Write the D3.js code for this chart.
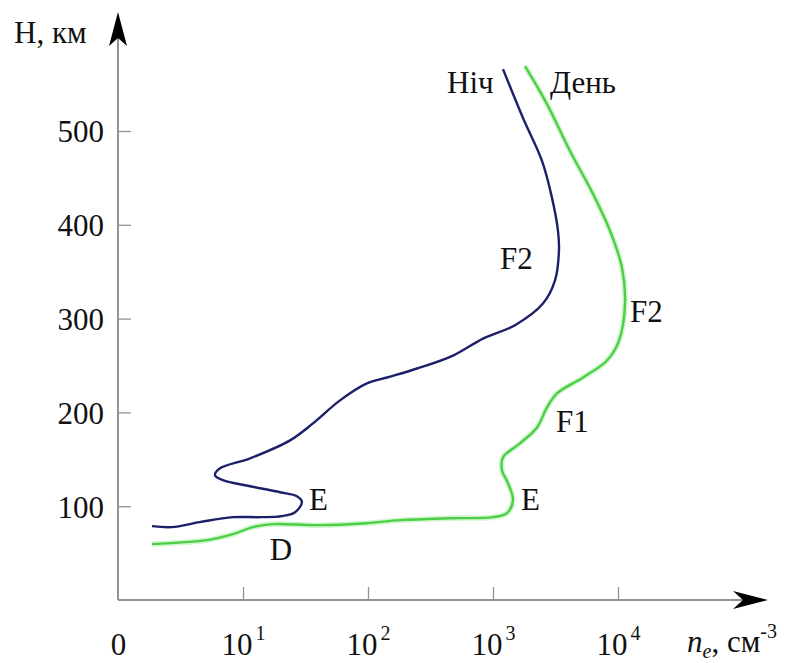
<!DOCTYPE html>
<html>
<head>
<meta charset="utf-8">
<script src="https://cdn.jsdelivr.net/npm/d3@7"></script>
<style>
  body { margin: 0; background: #fff; }
</style>
</head>
<body>
<div id="chart"></div>
<script>
// electron density (cm^-3) and height (km)
const nightNe = [1.87, 2.7, 4.5, 8.3, 13.7, 20.5, 26.1, 29.6, 27.0, 19.8, 11.4, 6.9, 5.97, 6.55, 11.4, 23.8, 36.3, 59.7, 98, 142, 247, 479, 832, 1500, 2510, 3130, 3370, 3310, 2965, 2466, 1738, 1202];
const nightH = [78.7, 77.7, 83, 88.3, 88.3, 89.4, 93.6, 104.3, 110.6, 114.9, 121.3, 127.7, 133, 140.4, 151.1, 170.2, 188.3, 212.8, 230.9, 237.2, 246.8, 260.6, 278.7, 293, 316, 340.4, 372.3, 393.6, 428.7, 468.1, 513.8, 566];

const dayNe = [1.87, 5.15, 8.3, 12.0, 17.4, 39.1, 98, 180, 453, 1000, 1294, 1445, 1318, 1180, 1202, 1644, 2249, 2704, 3251, 5248, 8166, 10190, 11376, 10765, 8630, 6310, 4130, 2704, 1803];
const dayH = [59.6, 63.8, 70.2, 77.7, 80.9, 79.8, 81.9, 85.1, 87.2, 88.3, 92.6, 106.4, 124.5, 138.3, 152.1, 167, 184, 205.3, 220.2, 237.2, 255.3, 276.6, 316, 354.3, 393.6, 433, 478.7, 528.7, 569.1];

const yTicks = [100, 200, 300, 400, 500];
const xTicks = [1, 10, 100, 1000, 10000];
const xTickExp = ["0", "1", "2", "3", "4"];

// layer labels: [text, ne, H]
const layerLabels = [
  ["Ніч", 429, 540],
  ["День", 2858, 540],
  ["F2", 1138, 353],
  ["F2", 12470, 296],
  ["F1", 3190, 179],
  ["E", 33.7, 96],
  ["E", 1675, 96],
  ["D", 16.4, 43]
];

const width = 787, height = 663;
const serif = "Liberation Serif";
const fontSize = 31;

const svg = d3.select("#chart")
  .append("svg")
  .attr("width", width)
  .attr("height", height);

const x = d3.scaleLog().domain([1, 1e4]).range([118, 618]);
const y = d3.scaleLinear().domain([0, 500]).range([600, 131]);

const axisColor = "#939393";

// y axis
const yAxis = svg.append("g")
  .attr("transform", `translate(${x(1)},0)`)
  .call(d3.axisLeft(y).tickValues(yTicks).tickSize(-13).tickPadding(14));
yAxis.attr("font-family", serif).attr("font-size", fontSize);
yAxis.select(".domain").remove();
yAxis.selectAll("line").attr("stroke", axisColor).attr("stroke-width", 1.3);
yAxis.selectAll("text")
  .attr("dy", "0.35em")
  .attr("font-family", serif)
  .attr("font-size", fontSize)
  .attr("fill", "#111");

// x axis
const xAxis = svg.append("g")
  .attr("transform", `translate(0,${y(0)})`)
  .call(d3.axisBottom(x).tickValues(xTicks).tickSize(-13).tickFormat(() => ""));
xAxis.attr("font-family", serif).attr("font-size", fontSize);
xAxis.select(".domain").remove();
xAxis.selectAll("line").attr("stroke", axisColor).attr("stroke-width", 1.3);
xAxis.selectAll(".tick").filter(d => d === 1).select("line").remove();
xAxis.selectAll(".tick text").each(function (d, i) {
  const t = d3.select(this)
    .attr("y", 55)
    .attr("dy", 0)
    .attr("font-family", serif)
    .attr("font-size", fontSize)
    .attr("fill", "#111");
  if (d === 1) {
    t.text("0");
  } else {
    t.append("tspan").text("10");
    t.append("tspan").attr("dx", 3).attr("dy", -15).attr("font-size", 20).text(xTickExp[i]);
  }
});

// axis lines with arrows
svg.append("line")
  .attr("x1", x(1)).attr("y1", y(0))
  .attr("x2", x(1)).attr("y2", 36)
  .attr("stroke", axisColor).attr("stroke-width", 2);
svg.append("line")
  .attr("x1", x(1)).attr("y1", y(0))
  .attr("x2", 746).attr("y2", y(0))
  .attr("stroke", axisColor).attr("stroke-width", 2);

const ax = x(1);
svg.append("path")
  .attr("d", `M${ax},12 L${ax + 9},46 L${ax},38 L${ax - 9},46 Z`)
  .attr("fill", "#000");
const ay = y(0);
svg.append("path")
  .attr("d", `M768,${ay} L733,${ay - 9} L743,${ay} L733,${ay + 9} Z`)
  .attr("fill", "#000");

// axis titles
svg.append("text")
  .attr("x", 14).attr("y", 43)
  .attr("font-family", serif)
  .attr("font-size", fontSize)
  .attr("fill", "#111")
  .text("H, км");

const xt = svg.append("text")
  .attr("x", 687).attr("y", 652)
  .attr("font-family", serif)
  .attr("font-size", fontSize)
  .attr("fill", "#111");
xt.append("tspan").attr("font-style", "italic").text("n");
xt.append("tspan").attr("dy", 6).attr("font-size", 20).attr("font-style", "italic").text("e");
xt.append("tspan").attr("dy", -6).text(", см");
xt.append("tspan").attr("dy", -14).attr("font-size", 20).text("-3");

// curves
const line = d3.line()
  .x(d => x(d[0]))
  .y(d => y(d[1]))
  .curve(d3.curveCatmullRom.alpha(0.5));

const dayData = dayNe.map((n, i) => [n, dayH[i]]);
const nightData = nightNe.map((n, i) => [n, nightH[i]]);

svg.append("path")
  .datum(dayData)
  .attr("d", line)
  .attr("fill", "none")
  .attr("stroke", "#b4f0b0")
  .attr("stroke-width", 5.5)
  .attr("stroke-opacity", 0.6);
svg.append("path")
  .datum(dayData)
  .attr("d", line)
  .attr("fill", "none")
  .attr("stroke", "#4ccf45")
  .attr("stroke-width", 2.4);

svg.append("path")
  .datum(nightData)
  .attr("d", line)
  .attr("fill", "none")
  .attr("stroke", "#1c2068")
  .attr("stroke-width", 2.4);

// layer labels
svg.selectAll(".layer")
  .data(layerLabels)
  .join("text")
  .attr("class", "layer")
  .attr("x", d => x(d[1]))
  .attr("y", d => y(d[2]))
  .attr("font-family", serif)
  .attr("font-size", fontSize)
  .attr("fill", "#111")
  .text(d => d[0]);
</script>
</body>
</html>
